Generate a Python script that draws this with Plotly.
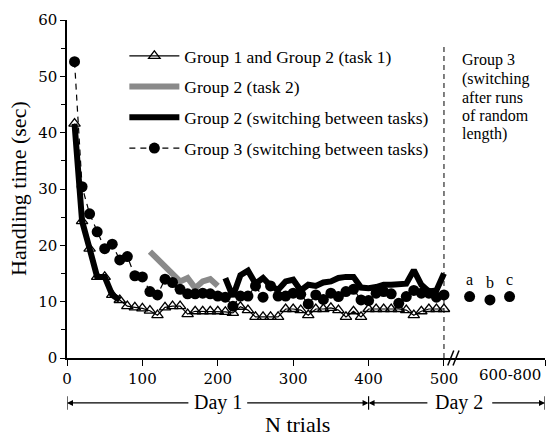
import plotly.graph_objects as go

FONT = "Liberation Serif, Times New Roman, serif"
TICKFONT = "DejaVu Serif, serif"

# ---- data ----
trials = [10, 20, 30, 40, 50, 60, 70, 80, 90, 100, 110, 120, 130, 140, 150, 160, 170, 180, 190, 200,
          210, 220, 230, 240, 250, 260, 270, 280, 290, 300, 310, 320, 330, 340, 350, 360, 370, 380, 390, 400,
          410, 420, 430, 440, 450, 460, 470, 480, 490, 500]
task1 = [41.6, 24.3, 19.4, 14.4, 14.4, 11.2, 10.3, 9.2, 9.0, 8.8, 8.4, 7.6, 9.0, 9.2, 9.2, 7.8, 8.3, 8.3, 8.3, 8.3,
         8.2, 8.0, 9.1, 8.5, 7.3, 7.3, 7.3, 7.3, 8.7, 8.7, 8.5, 7.6, 8.7, 8.7, 8.9, 8.5, 7.3, 8.3, 7.3, 8.7,
         8.7, 8.7, 8.7, 8.7, 8.5, 7.6, 8.3, 8.7, 8.7, 8.7]
group3 = [52.6, 30.4, 25.6, 22.4, 19.4, 20.2, 17.4, 18.0, 14.6, 14.4, 11.8, 11.2, 14.0, 13.4, 12.2, 11.4, 11.4, 11.5, 11.4, 11.0,
          10.8, 9.2, 11.0, 11.0, 12.8, 10.8, 12.8, 11.0, 11.0, 11.5, 11.3, 9.6, 11.2, 10.4, 11.5, 10.9, 11.8, 12.2, 10.3, 10.2,
          11.5, 11.8, 11.4, 9.7, 10.9, 12.0, 11.5, 11.5, 10.8, 11.2]
task2_trials = [110, 120, 130, 140, 150, 160, 170, 180, 190, 200]
task2 = [18.9, 17.6, 16.3, 15.0, 13.6, 14.2, 12.4, 13.6, 14.0, 12.8]
switch_trials = [10, 20, 30, 40, 50, 60, 70, None,
                 210, 220, 230, 240, 250, 260, 270, 280, 290, 300, 310, 320, 330, 340, 350, 360, 370, 380, 390, 400,
                 410, 420, 430, 440, 450, 460, 470, 480, 490, 500]
switch = [41.6, 24.3, 19.4, 14.4, 14.4, 11.2, 10.3, None,
          14.2, 10.9, 14.7, 15.5, 13.2, 14.2, 12.8, 12.1, 13.6, 13.9, 12.0, 13.0, 12.8, 13.4, 13.6, 14.2, 14.4, 14.4, 12.5, 12.4,
          12.6, 13.0, 13.0, 13.0, 13.2, 15.6, 13.0, 11.8, 12.0, 15.0]
random_x = [534, 561, 587]
random_y = [10.9, 10.3, 10.9]
random_labels = ["a", "b", "c"]
x_ticks = [0, 100, 200, 300, 400, 500, 634]
x_ticktext = ["0", "100", "200", "300", "400", "500", ""]

fig = go.Figure()
fig.add_trace(go.Scatter(x=task2_trials, y=task2, mode="lines", name="Group 2 (task 2)",
                         line=dict(color="#8a8a8a", width=6), legendgroup="b", legendrank=2))
fig.add_trace(go.Scatter(x=trials, y=task1, mode="lines+markers", name="Group 1 and Group 2 (task 1)",
                         line=dict(color="black", width=1.2),
                         marker=dict(symbol="triangle-up-open", size=10, color="black", line=dict(width=1.3)),
                         legendgroup="a", legendrank=1))
fig.add_trace(go.Scatter(x=trials, y=group3, mode="lines+markers", name="Group 3 (switching between tasks)",
                         line=dict(color="black", width=1.2, dash="6px,5px"),
                         marker=dict(symbol="circle", size=11, color="black"),
                         legendgroup="d", legendrank=4))
fig.add_trace(go.Scatter(x=switch_trials, y=switch, mode="lines", name="Group 2 (switching between tasks)",
                         line=dict(color="black", width=6), connectgaps=False,
                         legendgroup="c", legendrank=3))
fig.add_trace(go.Scatter(x=random_x, y=random_y, mode="markers+text", text=random_labels,
                         textposition="top center", textfont=dict(family=FONT, size=16, color="black"),
                         marker=dict(symbol="circle", size=11, color="black"), showlegend=False,
                         cliponaxis=False))

# vertical dashed line at 500
fig.add_shape(type="line", x0=500, x1=500, y0=0, y1=55.8, xref="x", yref="y",
              line=dict(color="black", width=1, dash="5px,4px"))
# axis break marks
for bx in [509, 516]:
    fig.add_shape(type="line", x0=bx - 4, x1=bx + 4, y0=-0.022, y1=0.022, xref="x", yref="paper",
                  line=dict(color="black", width=1.5))

# Day arrows
ya = -0.133
for (tail, head) in [(163, 0), (237, 400), (480, 400), (562, 634)]:
    fig.add_annotation(x=head, y=ya, xref="x", yref="paper", ax=tail, ay=0, axref="x", ayref="pixel",
                       text="", showarrow=True, arrowhead=2, arrowsize=1, arrowwidth=1.2,
                       arrowcolor="black", standoff=0)
for bx in [0, 400, 634]:
    fig.add_shape(type="line", x0=bx, x1=bx, y0=ya + 0.02, y1=ya - 0.02, xref="x", yref="paper",
                  line=dict(color="black", width=1.2))
fig.add_annotation(x=200, y=ya, xref="x", yref="paper", text="Day 1", showarrow=False,
                   xanchor="center", yanchor="middle", font=dict(family=FONT, size=20, color="black"))
fig.add_annotation(x=520, y=ya, xref="x", yref="paper", text="Day 2", showarrow=False,
                   xanchor="center", yanchor="middle", font=dict(family=FONT, size=20, color="black"))
fig.add_annotation(x=587, y=-0.05, xref="x", yref="paper", text="600-800", showarrow=False,
                   xanchor="center", yanchor="middle", font=dict(family=TICKFONT, size=15, color="black"))
fig.add_annotation(x=0.483, y=-0.198, xref="paper", yref="paper", text="N trials", showarrow=False,
                   xanchor="center", yanchor="middle", font=dict(family=FONT, size=22, color="black"))
fig.add_annotation(x=-0.1025, y=0.5, xref="paper", yref="paper", text="Handling time (sec)",
                   textangle=-90, showarrow=False, xanchor="center", yanchor="middle",
                   font=dict(family=FONT, size=22, color="black"))

# Group 3 note
note_lines = ["Group 3", "(switching", "after runs", "of random", "length)"]
for i, ln in enumerate(note_lines):
    py = 60 + 18.5 * i
    fig.add_annotation(x=521, y=(358 - py) / 338, xref="x", yref="paper", text=ln, showarrow=False,
                       xanchor="left", yanchor="middle", font=dict(family=FONT, size=16, color="black"))

fig.update_layout(
    width=548, height=437, margin=dict(l=67, r=3, t=20, b=79),
    paper_bgcolor="white", plot_bgcolor="white",
    font=dict(family=FONT, color="black"),
    legend=dict(x=0.12, y=0.947, xanchor="left", yanchor="top", bgcolor="rgba(0,0,0,0)",
                font=dict(family=FONT, size=17.5, color="black"), itemwidth=50,
                traceorder="grouped", tracegroupgap=5),
    xaxis=dict(range=[0, 634], showgrid=False, zeroline=False, showline=True, linecolor="black",
               linewidth=1.5, ticks="outside", ticklen=6, tickwidth=1.2, tickcolor="black",
               tickvals=x_ticks, ticktext=x_ticktext, tickfont=dict(family=TICKFONT, size=15)),
    yaxis=dict(range=[0, 60], showgrid=False, zeroline=False, showline=True, linecolor="black",
               linewidth=1.5, ticks="outside", ticklen=5, tickwidth=1.2, tickcolor="black",
               dtick=10, tickfont=dict(family=TICKFONT, size=15),
               minor=dict(dtick=5, ticks="outside", ticklen=4, tickcolor="black")),
)
fig.write_html("out.html")
